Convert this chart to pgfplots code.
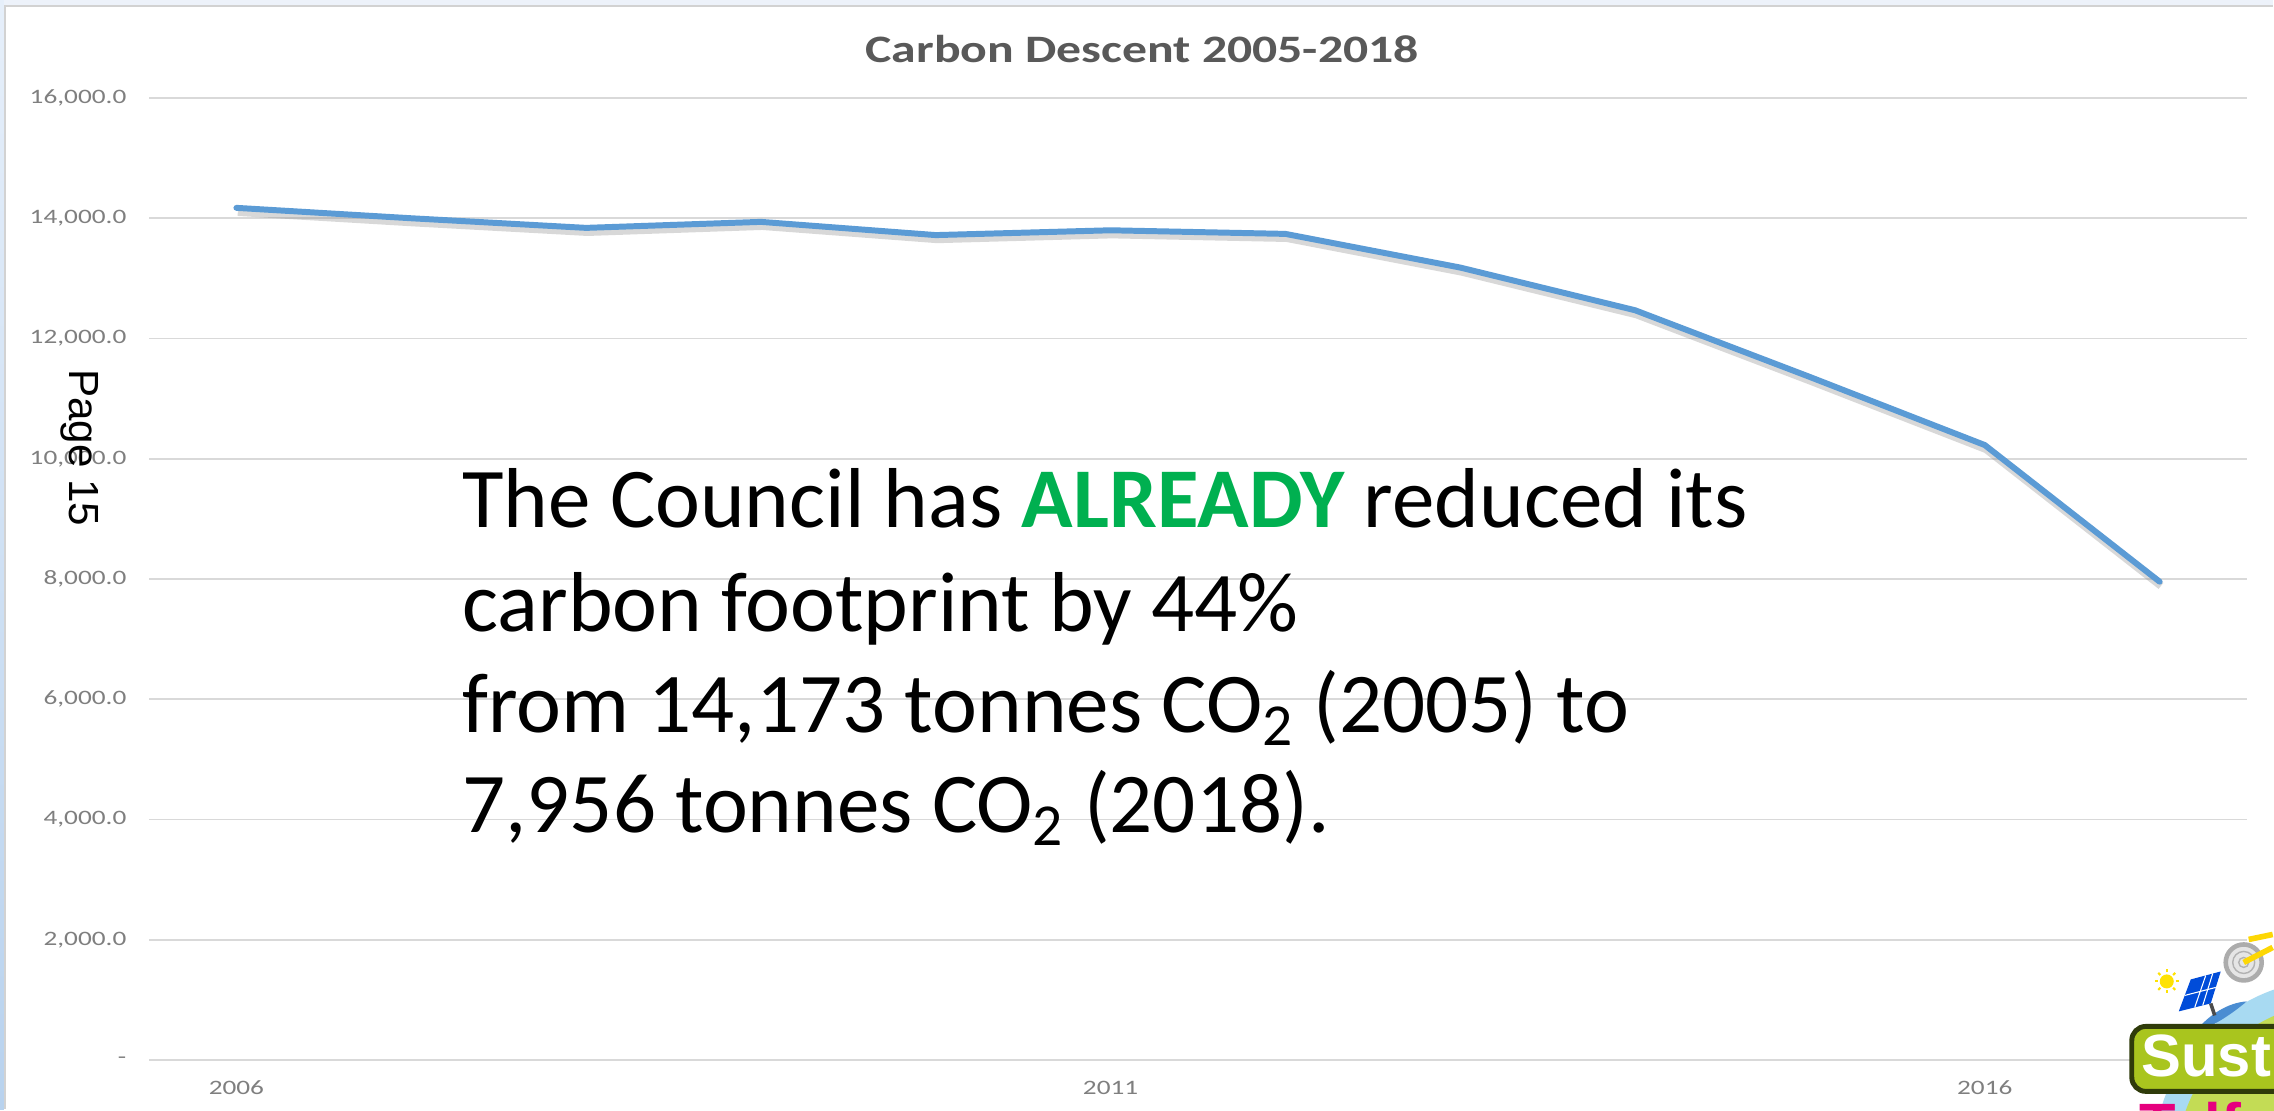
\documentclass[border=0pt]{standalone}
\usepackage{pgfplots}
\pgfplotsset{compat=1.18}
\usetikzlibrary{calc}
\usepackage{graphicx}
\usepackage{fontspec}
\setmainfont{Carlito}
\newfontfamily\arialf{Liberation Sans}
\definecolor{lineblue}{HTML}{5B9BD5}
\definecolor{gridgray}{HTML}{D9D9D9}
\definecolor{tickgray}{HTML}{7F7F7F}
\definecolor{titlegray}{HTML}{595959}
\definecolor{greentxt}{HTML}{00B050}
\definecolor{topblue}{HTML}{EDF2FA}
\definecolor{sideblueA}{HTML}{E6EFFA}
\definecolor{sideblueB}{HTML}{B8D2EE}
\definecolor{logogreen}{HTML}{A9C51E}
\definecolor{logodark}{HTML}{2F3B0A}
\definecolor{globeblue}{HTML}{A8DAF2}
\definecolor{globegreen}{HTML}{C3DC55}
\definecolor{magentalogo}{HTML}{E6007E}
\newcommand{\sx}[1]{\scalebox{1.33}[1]{#1}}
\begin{document}
\begin{tikzpicture}
\path[use as bounding box] (0,0) rectangle (22.74cm,11.10cm);
\clip (0,0) rectangle (22.74cm,11.10cm);
\fill[white] (0,0) rectangle (22.74cm,11.10cm);
\begin{axis}[
  at={(1.49cm,0.50cm)}, anchor=south west,
  scale only axis, width=20.98cm, height=9.62cm,
  xmin=-0.5, xmax=11.5, ymin=0, ymax=16000,
  scaled y ticks=false, scaled x ticks=false,
  axis line style={draw=none}, tick style={draw=none},
  ymajorgrids, grid style={gridgray, line width=0.55pt},
  ytick={0,2000,4000,6000,8000,10000,12000,14000,16000},
  yticklabels={{\sx{-}\hspace{0.04cm}},{\sx{2,000.0}},{\sx{4,000.0}},{\sx{6,000.0}},{\sx{8,000.0}},{\sx{10,000.0}},{\sx{12,000.0}},{\sx{14,000.0}},{\sx{16,000.0}}},
  xtick={0,5,10}, xticklabels={{\sx{2006}},{\sx{2011}},{\sx{2016}}},
  tick label style={font=\fontsize{5.83}{7}\selectfont, text=tickgray},
  yticklabel style={anchor=east, inner sep=0pt, xshift=-0.22cm},
  xticklabel style={anchor=north, inner sep=0pt, yshift=-0.20cm},
  clip=false
]
\addplot[gray, opacity=0.3, line width=2.2pt, yshift=-1.2pt, xshift=0.4pt, mark=none, line join=round]
  coordinates {(0,14173) (1,14000) (2,13840) (3,13940) (4,13720) (5,13800) (6,13740) (7,13180) (8,12470) (9,11360) (10,10228) (11,7956)};
\addplot[lineblue, line width=1.7pt, mark=none, line join=round, line cap=round]
  coordinates {(0,14173) (1,14000) (2,13840) (3,13940) (4,13720) (5,13800) (6,13740) (7,13180) (8,12470) (9,11360) (10,10228) (11,7956)};
\end{axis}
\begin{scope}[x=0.01cm, y=-0.01cm, shift={(0cm,11.10cm)}]
  % frame
  \fill[topblue] (0,0) rectangle (2274,5);
  \draw[gray!35, line width=0.6pt] (0,6) -- (2274,6);
  \shade[top color=sideblueA, bottom color=sideblueB] (0,0) rectangle (4,1110);
  \draw[gray!35, line width=0.6pt] (5,6) -- (5,1110);
  % title
  \node[font=\fontsize{11.05}{13}\selectfont\bfseries, text=titlegray] at (1143,49) {\scalebox{1.28}[1]{Carbon Descent 2005-2018}};
  % overlay text
  \begin{scope}[every node/.style={anchor=base west, inner sep=0pt, font=\fontsize{24.2}{29}\selectfont, text=black}]
    \node at (462,528) {The Council has \textbf{\textcolor{greentxt}{ALREADY}} reduced its};
    \node at (462,632) {carbon footprint by 44\%};
    \node at (462,733) {from 14,173 tonnes CO\textsubscript{2} (2005) to};
    \node at (462,833) {7,956 tonnes CO\textsubscript{2} (2018).};
  \end{scope}
  % page number
  \node[rotate=-90, anchor=base, inner sep=0pt, font=\arialf\fontsize{12}{14}\selectfont] at (70,448) {Page 15};
  % logo (partial, cut by the right edge)
  \fill[globeblue] (2335,1160) circle (180);
  \fill[globegreen] (2343,1168) circle (166);
  \fill[cyan!55!blue!75] (2197,1032) .. controls (2210,1015) and (2230,1003) .. (2248,1002) .. controls (2236,1012) and (2216,1027) .. (2197,1032);
  \fill[yellow!85!orange] (2168,982) circle (7);
  \foreach \a in {0,45,...,315} { \draw[yellow!85!orange, line width=0.6pt] ($(2168,982)+(\a:9)$) -- ($(2168,982)+(\a:12)$); }
  \fill[blue!65!cyan!85!black] (2180,1012) -- (2192,980) -- (2222,972) -- (2212,1004) -- cycle;
  \draw[white, line width=0.3pt] (2186,996) -- (2217,988) (2196,1008) -- (2207,976) (2204,1006) -- (2214,974);
  \draw[gray!60!black, line width=1pt] (2212,1004) -- (2216,1016);
  \fill[gray!20] (2245,963) circle (18);
  \draw[gray!65, line width=1.3pt] (2245,963) circle (18);
  \draw[gray!60, line width=0.4pt] (2245,963) circle (11) (2245,963) circle (5);
  \draw[yellow!75!orange, line width=1.6pt] (2245,963) -- (2274,948) (2250,940) -- (2274,935);
  \draw[fill=logogreen, draw=logodark, line width=1.4pt, rounded corners=4pt] (2133,1027) rectangle (2320,1092);
  \node[anchor=base west, inner sep=0pt, text=white, font=\arialf\bfseries\fontsize{17}{20}\selectfont] at (2142,1077) {Sust};
  \node[anchor=north west, inner sep=0pt, text=magentalogo, font=\arialf\bfseries\fontsize{17}{20}\selectfont] at (2140,1102) {Telford};
\end{scope}
\end{tikzpicture}
\end{document}
